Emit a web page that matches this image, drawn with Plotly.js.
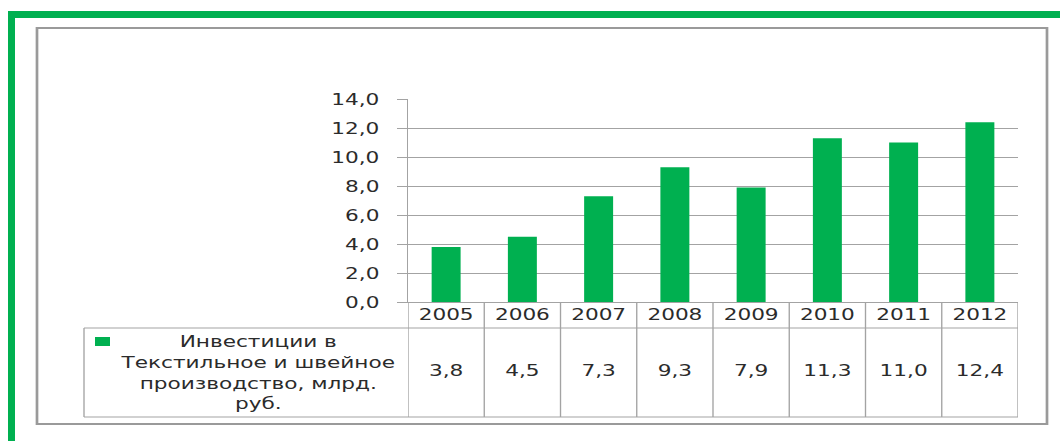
<!DOCTYPE html>
<html>
<head>
<meta charset="utf-8">
<script src="https://cdn.plot.ly/plotly-3.0.1.min.js"></script>
<style>
  html, body { margin: 0; padding: 0; background: #ffffff; }
  #wrap { width: 1060px; height: 441px; overflow: hidden; position: relative; }
  #plot { width: 785px; height: 441px; transform: scaleX(1.35032); transform-origin: 0 0; }
</style>
</head>
<body>
<div id="wrap"><div id="plot"></div></div>
<script>
// ---- data ----
const years = ['2005', '2006', '2007', '2008', '2009', '2010', '2011', '2012'];
const investments = [3.8, 4.5, 7.3, 9.3, 7.9, 11.3, 11.0, 12.4];
const seriesName = 'Инвестиции в<br>Текстильное и швейное<br>производство, млрд.<br>руб.';
const yTickValues = [0, 2, 4, 6, 8, 10, 12, 14];

// ---- helpers (reference pixel -> paper fraction) ----
const W = 1060, H = 441;
const px = x => x / W;
const py = y => 1 - y / H;

const GREEN = '#00b050';
const GRID = '#a3a3a3';
const TEXT = '#2b2b2b';
const FONT = 'DejaVu Sans';

const fmt = v => v.toFixed(1).replace('.', ',');

const shapes = [];
// outer green L frame
shapes.push({type: 'rect', xref: 'paper', yref: 'paper', x0: px(8), x1: 1, y0: py(18), y1: py(11),
  fillcolor: GREEN, line: {width: 0}, layer: 'below'});
shapes.push({type: 'rect', xref: 'paper', yref: 'paper', x0: px(8), x1: px(15), y0: 0, y1: py(11),
  fillcolor: GREEN, line: {width: 0}, layer: 'below'});
// gray chart frame
shapes.push({type: 'rect', xref: 'paper', yref: 'paper', x0: px(37), x1: px(1047), y0: py(424), y1: py(28),
  line: {color: '#9a9a9a', width: 2}, fillcolor: 'rgba(0,0,0,0)'});

// data table grid
const tableTop = 302, headerBottom = 328, tableBottom = 417, legendLeft = 84;
shapes.push({type: 'line', xref: 'paper', yref: 'paper', x0: px(legendLeft), x1: px(1018), y0: py(headerBottom), y1: py(headerBottom),
  line: {color: GRID, width: 1}});
shapes.push({type: 'line', xref: 'paper', yref: 'paper', x0: px(legendLeft), x1: px(1018), y0: py(tableBottom), y1: py(tableBottom),
  line: {color: GRID, width: 1}});
shapes.push({type: 'line', xref: 'paper', yref: 'paper', x0: px(legendLeft), x1: px(legendLeft), y0: py(tableBottom), y1: py(headerBottom),
  line: {color: GRID, width: 1}});
for (let i = 0; i <= years.length; i++) {
  shapes.push({type: 'line', xref: 'x', yref: 'paper', x0: i - 0.5, x1: i - 0.5, y0: py(tableBottom), y1: py(tableTop),
    line: {color: GRID, width: 1}});
}
// legend key
shapes.push({type: 'rect', xref: 'paper', yref: 'paper', x0: px(95), x1: px(110), y0: py(346), y1: py(337),
  fillcolor: GREEN, line: {width: 0}});

const annotations = [];
annotations.push({xref: 'paper', yref: 'paper', x: px(258), y: py(372), text: seriesName, showarrow: false,
  align: 'center', xanchor: 'center', yanchor: 'middle', font: {family: FONT, size: 16, color: TEXT}});

const barTrace = {
  type: 'bar',
  x: years,
  y: investments,
  name: seriesName,
  marker: {color: GREEN},
  hoverinfo: 'x+y'
};

// value row of the data table, drawn through the x axis and a hidden row axis
const tableTrace = {
  type: 'scatter',
  mode: 'text',
  x: years,
  y: years.map(() => 0.5),
  yaxis: 'y2',
  text: investments.map(fmt),
  textposition: 'middle center',
  textfont: {family: FONT, size: 16, color: TEXT},
  cliponaxis: false,
  hoverinfo: 'skip',
  showlegend: false
};

const layout = {
  width: 785,
  height: 441,
  margin: {l: 0, r: 0, t: 0, b: 0},
  paper_bgcolor: '#ffffff',
  plot_bgcolor: 'rgba(0,0,0,0)',
  showlegend: false,
  separators: ', ',
  bargap: 0.62,
  font: {family: FONT, size: 16, color: TEXT},
  xaxis: {
    type: 'category',
    domain: [px(408), px(1018)],
    range: [-0.5, 7.5],
    showgrid: false,
    showline: true,
    linecolor: GRID,
    linewidth: 1,
    ticks: '',
    ticklabelstandoff: -2,
    tickfont: {family: FONT, size: 16, color: TEXT},
    fixedrange: true
  },
  yaxis: {
    domain: [py(302), py(99)],
    range: [0, 14],
    tickvals: yTickValues,
    tickformat: '.1f',
    showgrid: true,
    gridcolor: GRID,
    gridwidth: 1,
    zeroline: false,
    showline: true,
    linecolor: GRID,
    linewidth: 1,
    ticks: 'outside',
    ticklen: 7,
    tickcolor: GRID,
    ticklabelstandoff: 10,
    tickfont: {family: FONT, size: 16, color: TEXT},
    fixedrange: true
  },
  yaxis2: {
    domain: [py(tableBottom), py(headerBottom)],
    range: [0, 1],
    anchor: 'x',
    visible: false,
    showgrid: false,
    zeroline: false,
    fixedrange: true
  },
  shapes: shapes,
  annotations: annotations
};

Plotly.newPlot('plot', [barTrace, tableTrace], layout, {displayModeBar: false, staticPlot: true});
</script>
</body>
</html>
